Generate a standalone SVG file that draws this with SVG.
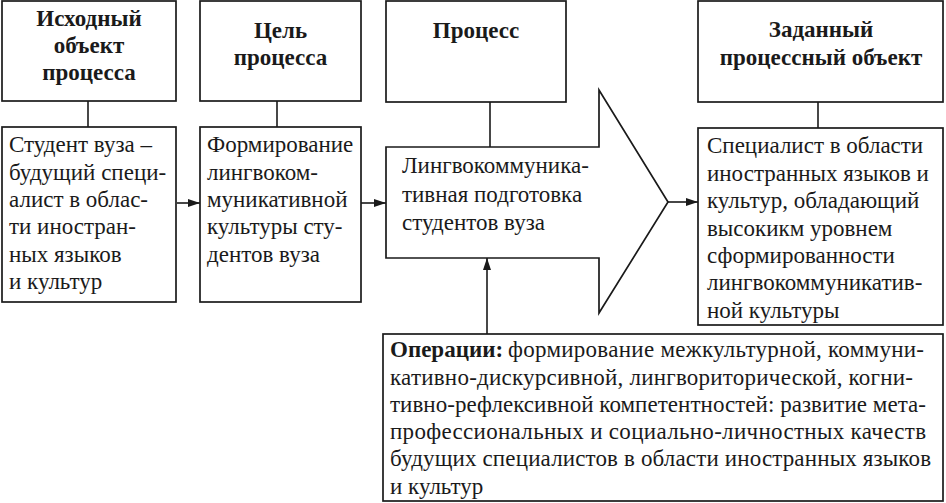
<svg xmlns="http://www.w3.org/2000/svg" width="946" height="503" viewBox="0 0 946 503">
<style>
.b{fill:#fff;stroke:#1a1a1a;stroke-width:1.7}
.c{fill:none;stroke:#1a1a1a;stroke-width:1.6}
.h{font-family:'Liberation Serif','Times New Roman',serif;font-weight:bold;font-size:23px;fill:#1a1a1a;text-anchor:middle}
.t{font-family:'Liberation Serif','Times New Roman',serif;font-size:23px;fill:#1a1a1a}
.tb{font-family:'Liberation Serif','Times New Roman',serif;font-size:23px;font-weight:bold;fill:#1a1a1a}
</style>
<defs>
<marker id="ar" viewBox="0 0 12 8" refX="12" refY="4" markerWidth="12" markerHeight="8" markerUnits="userSpaceOnUse" orient="auto">
<path d="M0,0 L12,4 L0,8 Z" fill="#1a1a1a"/>
</marker>
</defs>
<rect width="946" height="503" fill="#fff"/>
<g id="connectors">
<line class="c" x1="88" y1="101" x2="88" y2="127"/>
<line class="c" x1="277" y1="101" x2="277" y2="127"/>
<line class="c" x1="490" y1="102" x2="490" y2="147"/>
<line class="c" x1="818" y1="102" x2="818" y2="128"/>
<line class="c" x1="177" y1="203" x2="200" y2="203" marker-end="url(#ar)"/>
<line class="c" x1="361" y1="203" x2="386" y2="203" marker-end="url(#ar)"/>
<line class="c" x1="668" y1="202" x2="698" y2="202" marker-end="url(#ar)"/>
<line class="c" x1="487" y1="334" x2="487" y2="258" marker-end="url(#ar)"/>
</g>
<g id="n1h">
<rect class="b" x="2" y="1" width="174" height="100"/>
<text class="h" x="89" y="26">Исходный</text>
<text class="h" x="89" y="53">объект</text>
<text class="h" x="89" y="80">процесса</text>
</g>
<g id="n1">
<rect class="b" x="2" y="127" width="174" height="175"/>
<text class="t" x="9" y="152">Студент вуза –</text>
<text class="t" x="9" y="179.5">будущий специ-</text>
<text class="t" x="9" y="207">алист в облас-</text>
<text class="t" x="9" y="234">ти иностран-</text>
<text class="t" x="9" y="261.5">ных языков</text>
<text class="t" x="9" y="289">и культур</text>
</g>
<g id="n2h">
<rect class="b" x="200" y="1" width="161" height="100"/>
<text class="h" x="280.5" y="38">Цель</text>
<text class="h" x="280.5" y="65">процесса</text>
</g>
<g id="n2">
<rect class="b" x="200" y="127" width="161" height="175"/>
<text class="t" x="207" y="152">Формирование</text>
<text class="t" x="207" y="179.5">лингвоком-</text>
<text class="t" x="207" y="207">муникативной</text>
<text class="t" x="207" y="234">культуры сту-</text>
<text class="t" x="207" y="261.5">дентов вуза</text>
</g>
<g id="n3h">
<rect class="b" x="386" y="1" width="180" height="101"/>
<text class="h" x="476" y="38">Процесс</text>
</g>
<g id="n3">
<polygon class="b" points="386,147 599,147 599,90 668,202 599,313 599,258 386,258"/>
<text class="t" x="402" y="173">Лингвокоммуника-</text>
<text class="t" x="402" y="202">тивная подготовка</text>
<text class="t" x="402" y="230">студентов вуза</text>
</g>
<g id="n4h">
<rect class="b" x="698" y="1" width="245" height="101"/>
<text class="h" x="821" y="37">Заданный</text>
<text class="h" x="821" y="65">процессный объект</text>
</g>
<g id="n4">
<rect class="b" x="698" y="128" width="245" height="197"/>
<text class="t" x="707" y="153">Специалист в области</text>
<text class="t" x="707" y="181">иностранных языков и</text>
<text class="t" x="707" y="208">культур, обладающий</text>
<text class="t" x="707" y="235.5">высокикм уровнем</text>
<text class="t" x="707" y="263">сформированности</text>
<text class="t" x="707" y="290">лингвокоммуникатив-</text>
<text class="t" x="707" y="317.5">ной культуры</text>
</g>
<g id="n5">
<rect class="b" x="383" y="334" width="560" height="167"/>
<text class="tb" x="390" y="357">Операции:</text>
<text class="t" x="508" y="357" textLength="416" lengthAdjust="spacing">формирование межкультурной, коммуни-</text>
<text class="t" x="390" y="384.5" textLength="523" lengthAdjust="spacing">кативно-дискурсивной, лингвориторической, когни-</text>
<text class="t" x="390" y="412" textLength="536" lengthAdjust="spacing">тивно-рефлексивной компетентностей: развитие мета-</text>
<text class="t" x="390" y="439" textLength="536" lengthAdjust="spacing">профессиональных и социально-личностных качеств</text>
<text class="t" x="390" y="466" textLength="541" lengthAdjust="spacing">будущих специалистов в области иностранных языков</text>
<text class="t" x="390" y="494">и культур</text>
</g>
</svg>
